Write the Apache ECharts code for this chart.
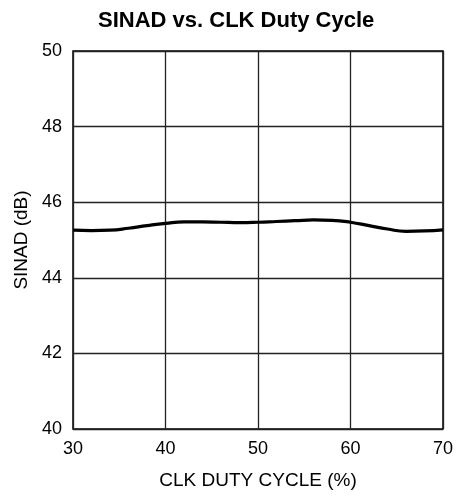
<!DOCTYPE html>
<html>
<head>
<meta charset="utf-8">
<script src="https://cdn.jsdelivr.net/npm/echarts@6/dist/echarts.min.js"></script>
<style>
  html, body { margin: 0; padding: 0; background: #fff; }
  #chart { width: 458px; height: 499px; }
</style>
</head>
<body>
<div id="chart"></div>
<script>
// duty cycle (%) and SINAD (dB)
const dutyCycle = [30, 32, 34, 36, 38, 40, 42, 44, 46, 48, 50, 52, 54, 56, 58, 60, 62, 64, 66, 68, 70];
const sinad = [45.26, 45.25, 45.26, 45.31, 45.38, 45.44, 45.48, 45.48, 45.47, 45.46, 45.47,
  45.49, 45.51, 45.53, 45.52, 45.47, 45.38, 45.29, 45.23, 45.24, 45.27];

const font = "Liberation Sans, Arial, sans-serif";
const chart = echarts.init(document.getElementById("chart"));

chart.setOption({
  animation: false,
  title: {
    text: "SINAD vs. CLK Duty Cycle",
    left: 93,
    top: 5,
    textStyle: { fontFamily: font, fontSize: 22, fontWeight: "bold", color: "#000" },
  },
  grid: {
    left: 73,
    right: 15,
    top: 51,
    bottom: 70,
    show: true,
    borderColor: "#000",
    borderWidth: 1.5,
  },
  xAxis: {
    type: "value",
    min: 30,
    max: 70,
    interval: 10,
    name: "CLK DUTY CYCLE (%)",
    nameLocation: "middle",
    nameGap: 42,
    nameTextStyle: { fontFamily: font, fontSize: 19, color: "#000" },
    axisLine: { show: false },
    axisTick: { show: false },
    axisLabel: { fontFamily: font, fontSize: 18, color: "#000", margin: 11 },
    splitLine: { lineStyle: { color: "#222", width: 1.3 } },
  },
  yAxis: {
    type: "value",
    min: 40,
    max: 50,
    interval: 2,
    name: "SINAD (dB)",
    nameLocation: "middle",
    nameGap: 38,
    nameTextStyle: { fontFamily: font, fontSize: 19, color: "#000" },
    axisLine: { show: false },
    axisTick: { show: false },
    axisLabel: { fontFamily: font, fontSize: 18, color: "#000", margin: 11 },
    splitLine: { lineStyle: { color: "#222", width: 1.3 } },
  },
  series: [
    {
      type: "line",
      data: dutyCycle.map((d, i) => [d, sinad[i]]),
      smooth: true,
      showSymbol: false,
      lineStyle: { color: "#000", width: 3.2 },
    },
  ],
});
</script>
</body>
</html>
